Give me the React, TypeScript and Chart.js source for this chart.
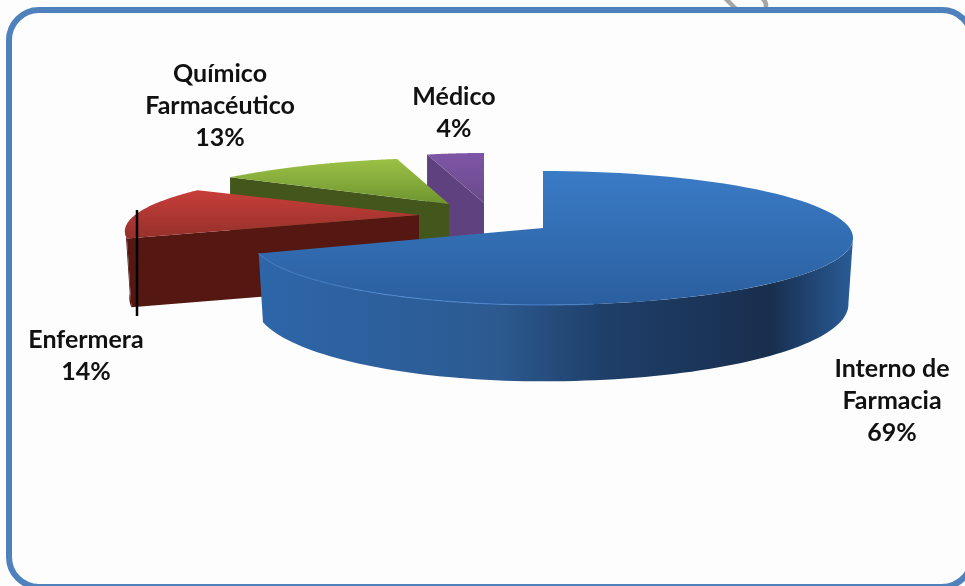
import React, { useEffect, useRef } from "react";
import { Chart, registerables } from "chart.js";

Chart.register(...registerables);

const categories = ["Interno de Farmacia", "Enfermera", "Químico Farmacéutico", "Médico"];
const shares = [69, 14, 13, 4];
const labelLines = [["Interno de", "Farmacia"], ["Enfermera"], ["Químico", "Farmacéutico"], ["Médico"]];

const toRad = (deg: number) => (deg * Math.PI) / 180;

// Each wedge is pulled away from the centre, so it carries its own pivot and perspective.
// wallArc is the stretch of rim whose outer wall faces the viewer, in degrees from twelve o'clock.
const wedgeViews = [
  {
    pivot: [543, 228], spanRight: 306.6, spanLeft: 289, tilt: 65.5, perspective: 0.149,
    depth: 65, pivotDepth: 65, taper: 0.985, wallArc: [98, 360],
    top: ["#3a7bc6", "#2a5f9f"], face: "#2a5c9a",
    wall: [[0, "#2d66aa"], [0.4, "#2c5a90"], [0.58, "#1f3f6a"], [0.86, "#182e4d"], [1, "#2a5c98"]],
    rim: "rgba(74,134,208,0.75)",
  },
  {
    pivot: [419, 215], spanRight: 284, spanLeft: 284, tilt: 58, perspective: 0.26,
    depth: 62, pivotDepth: 69, taper: 0.985, wallArc: [0, 258],
    top: ["#c83e39", "#95302b"], face: "#541712",
    wall: [[0, "#541712"], [1, "#541712"]], rim: null,
  },
  {
    pivot: [449, 204], spanRight: 310, spanLeft: 310, tilt: 69, perspective: 0.5,
    depth: 69, pivotDepth: 69, taper: 1, wallArc: [0, 0],
    top: ["#9cc146", "#6e952f"], face: "#43561b",
    wall: [[0, "#43561b"], [1, "#43561b"]], rim: null,
  },
  {
    pivot: [484, 203], spanRight: 229, spanLeft: 229, tilt: 50, perspective: 0,
    depth: 69, pivotDepth: 69, taper: 1, wallArc: [0, 0],
    top: ["#7d56a6", "#6a4a8a"], face: "#5f4180",
    wall: [[0, "#5f4180"], [1, "#5f4180"]], rim: null,
  },
];
const labelAnchors = [[892, 369], [86, 340], [220, 74], [454, 97]];
const labelFont = "700 25px Lato, 'Open Sans', sans-serif";
const labelLeading = 32;

type View = (typeof wedgeViews)[number];

// Projects an angle on a wedge's rim, measured clockwise from twelve o'clock, onto the canvas.
function project(view: View, theta: number, lowered = false): [number, number] {
  const across = Math.sin(theta);
  const toward = -Math.cos(theta);
  const scale = 1 / (1 - view.perspective * toward);
  const span = across < 0 ? view.spanLeft : view.spanRight;
  const narrowing = lowered ? view.taper : 1;
  const x = view.pivot[0] + span * across * scale * narrowing;
  const y = view.pivot[1] + view.tilt * toward * scale + (lowered ? view.depth * scale : 0);
  return [x, y];
}

function traceRim(ctx: CanvasRenderingContext2D, view: View, from: number, to: number, lowered = false) {
  const steps = 90;
  for (let i = 0; i <= steps; i++) {
    const [x, y] = project(view, from + ((to - from) * i) / steps, lowered);
    ctx.lineTo(x, y);
  }
}

function drawWedge(ctx: CanvasRenderingContext2D, view: View, from: number, to: number) {
  const [px, py] = view.pivot;
  const [sx, sy] = project(view, from);
  const [lx, ly] = project(view, from, true);

  // Cut face along the leading edge
  ctx.beginPath();
  ctx.moveTo(px, py);
  ctx.lineTo(sx, sy);
  ctx.lineTo(lx, ly);
  ctx.lineTo(px, py + view.pivotDepth);
  ctx.closePath();
  ctx.fillStyle = view.face;
  ctx.fill();

  // Curved outer wall, only where it faces the viewer
  const wallFrom = Math.max(from, toRad(view.wallArc[0]));
  const wallTo = Math.min(to, toRad(view.wallArc[1]));
  if (wallTo > wallFrom) {
    const [minX, maxX] = [project(view, to)[0], project(view, wallFrom)[0]];
    const wallFill = ctx.createLinearGradient(Math.min(minX, maxX), 0, Math.max(minX, maxX), 0);
    view.wall.forEach(([stop, color]) => wallFill.addColorStop(stop as number, color as string));
    ctx.beginPath();
    const [wx, wy] = project(view, wallFrom);
    ctx.moveTo(wx, wy);
    traceRim(ctx, view, wallFrom, wallTo);
    traceRim(ctx, view, wallTo, wallFrom, true);
    ctx.closePath();
    ctx.fillStyle = wallFill;
    ctx.fill();
  }

  // Top surface
  let minY = py;
  let maxY = py;
  for (let i = 0; i <= 90; i++) {
    const [, y] = project(view, from + ((to - from) * i) / 90);
    minY = Math.min(minY, y);
    maxY = Math.max(maxY, y);
  }
  const topFill = ctx.createLinearGradient(0, minY, 0, maxY);
  topFill.addColorStop(0, view.top[0]);
  topFill.addColorStop(1, view.top[1]);
  ctx.beginPath();
  ctx.moveTo(px, py);
  traceRim(ctx, view, from, to);
  ctx.closePath();
  ctx.fillStyle = topFill;
  ctx.fill();

  // Bevel highlight on the front of the rim
  if (view.rim) {
    ctx.beginPath();
    const start = toRad(172);
    const [hx, hy] = project(view, start);
    ctx.moveTo(hx, hy);
    traceRim(ctx, view, start, to);
    ctx.strokeStyle = view.rim;
    ctx.lineWidth = 1.2;
    ctx.stroke();
  }
}

// Frame, stray marks and the extruded pie, painted from the arcs the pie controller computed.
const extrudedPie = {
  id: "extrudedPie",
  beforeDatasetDraw(chart: Chart) {
    const ctx = chart.ctx;
    const arcs = chart.getDatasetMeta(0).data as any[];

    ctx.save();
    ctx.fillStyle = "#fdfdfd";
    ctx.fillRect(0, 0, chart.width, chart.height);

    ctx.strokeStyle = "#a6a6a6";
    ctx.lineWidth = 4.5;
    ctx.beginPath();
    ctx.moveTo(725, -2);
    ctx.lineTo(736, 9);
    ctx.moveTo(762, -2);
    ctx.quadraticCurveTo(768, 3, 765, 10);
    ctx.stroke();

    ctx.strokeStyle = "#4f81bd";
    ctx.lineWidth = 6;
    ctx.beginPath();
    ctx.roundRect(9, 10, 963, 577, 30);
    ctx.stroke();

    // Painted far to near
    for (let i = arcs.length - 1; i >= 0; i--) {
      const arc = arcs[i];
      drawWedge(ctx, wedgeViews[i], arc.startAngle + Math.PI / 2, arc.endAngle + Math.PI / 2);
    }

    ctx.strokeStyle = "#000000";
    ctx.lineWidth = 2.5;
    ctx.beginPath();
    ctx.moveTo(137, 210);
    ctx.lineTo(137, 316);
    ctx.stroke();

    ctx.fillStyle = "#111111";
    ctx.font = labelFont;
    ctx.textAlign = "center";
    ctx.textBaseline = "middle";
    labelLines.forEach((lines, i) => {
      const [x, y] = labelAnchors[i];
      [...lines, `${shares[i]}%`].forEach((line, row) => ctx.fillText(line, x, y + row * labelLeading));
    });
    ctx.restore();
    return false;
  },
};

export default function App() {
  const canvasRef = useRef<HTMLCanvasElement>(null);

  useEffect(() => {
    const chart = new Chart(canvasRef.current!, {
      type: "pie",
      data: { labels: categories, datasets: [{ data: shares, borderWidth: 0 }] },
      options: {
        animation: false,
        responsive: false,
        plugins: { legend: { display: false }, tooltip: { enabled: false } },
      },
      plugins: [extrudedPie],
    });
    return () => chart.destroy();
  }, []);

  return (
    <div style={{ position: "absolute", left: 0, top: 0, width: 965, height: 586, overflow: "hidden" }}>
      <canvas ref={canvasRef} width={965} height={586} style={{ display: "block" }} />
    </div>
  );
}
